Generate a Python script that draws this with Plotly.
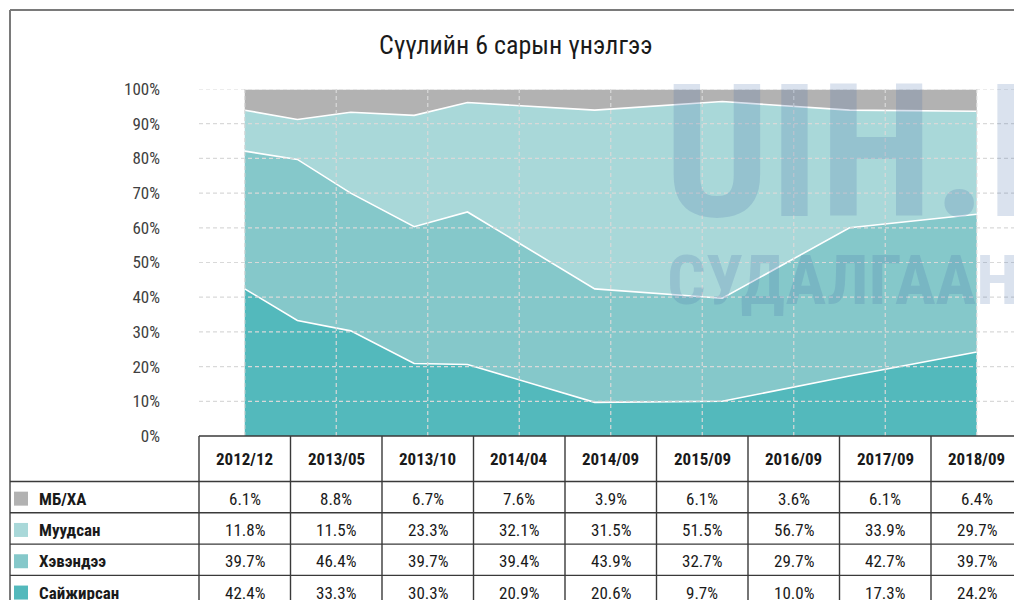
import plotly.graph_objects as go
import pandas as pd

# ---------------- data ----------------
categories = ["2012/12", "2013/05", "2013/10", "2014/04", "2014/09",
              "2015/09", "2016/09", "2017/09", "2018/09"]
series_names = ["МБ/ХА", "Муудсан", "Хэвэндээ", "Сайжирсан"]
mb_xa = [6.1, 8.8, 6.7, 7.6, 3.9, 6.1, 3.6, 6.1, 6.4]
muudsan = [11.8, 11.5, 23.3, 32.1, 31.5, 51.5, 56.7, 33.9, 29.7]
hevendee = [39.7, 46.4, 39.7, 39.4, 43.9, 32.7, 29.7, 42.7, 39.7]
saijirsan = [42.4, 33.3, 30.3, 20.9, 20.6, 9.7, 10.0, 17.3, 24.2]
y_tick_vals = [0, 10, 20, 30, 40, 50, 60, 70, 80, 90, 100]
y_tick_text = ["0%", "10%", "20%", "30%", "40%", "50%", "60%", "70%", "80%", "90%", "100%"]
title_text = "Сүүлийн 6 сарын үнэлгээ"
watermark_1 = "UIH.MN"
watermark_2 = "СУДАЛГААНЫ С"

series_values = [mb_xa, muudsan, hevendee, saijirsan]
colors = ["#b2b2b2", "#a9d8d9", "#85c8ca", "#53b9bc"]

FONT = "Liberation Sans Narrow, Roboto Condensed, DejaVu Sans Condensed, Arial Narrow, sans-serif"

# ---------------- layout geometry (pixels) ----------------
FIG_W, FIG_H = 1014, 600
L, T = 199, 89          # plot area left / top
W = FIG_W - L           # plot area width (to right edge)
H = 436 - T             # plot area height
COL_W = 91.5
HEADER_TOP = 436
HEADER_BOTTOM = 481.5
ROW_H = 31.3
TABLE_LEFT = 10


def xp(px):
    return (px - L) / W


def yp(py):
    return (T + H - py) / H


dates = pd.to_datetime(categories, format="%Y/%m")
first_c = L + COL_W / 2
last_c = L + (len(categories) - 0.5) * COL_W
span_days = (dates[-1] - dates[0]).days
px_per_day = (last_c - first_c) / span_days
r0 = dates[0] - pd.Timedelta(days=(first_c - L) / px_per_day)
r1 = dates[0] + pd.Timedelta(days=(L + W - first_c) / px_per_day)

fig = go.Figure()
# stack from bottom to top
for name, vals, col in reversed(list(zip(series_names, series_values, colors))):
    fig.add_trace(go.Scatter(
        x=dates, y=vals, name=name, mode="lines",
        stackgroup="one", groupnorm="percent",
        line=dict(color="white", width=1.6),
        fillcolor=col, showlegend=False,
        hovertemplate=name + ": %{text}<extra></extra>",
        text=[f"{v:.1f}%" for v in vals],
    ))

shapes = []
grid = dict(color="#d9d9d9", width=1.2, dash="4px,3px")
# horizontal gridlines (on top of areas)
for v in y_tick_vals[1:]:
    shapes.append(dict(type="line", xref="paper", yref="y", x0=0, x1=1, y0=v, y1=v,
                       line=grid, layer="above"))
# vertical gridlines at category centres
for i in range(len(categories)):
    cx = xp(L + (i + 0.5) * COL_W)
    shapes.append(dict(type="line", xref="paper", yref="y", x0=cx, x1=cx, y0=0, y1=100,
                       line=grid, layer="above"))

# outer border
border = dict(color="#7a7a7a", width=2)
shapes.append(dict(type="line", xref="paper", yref="paper", x0=xp(TABLE_LEFT), x1=xp(FIG_W + 5),
                   y0=yp(10), y1=yp(10), line=border))
shapes.append(dict(type="line", xref="paper", yref="paper", x0=xp(TABLE_LEFT), x1=xp(TABLE_LEFT),
                   y0=yp(10), y1=yp(FIG_H + 5), line=border))

# data table lines
tl = dict(color="#3a3a3a", width=1.4)
table_right = L + len(categories) * COL_W
shapes.append(dict(type="line", xref="paper", yref="paper", x0=0, x1=xp(table_right),
                   y0=yp(HEADER_TOP), y1=yp(HEADER_TOP), line=tl))
for r in range(len(series_names)):
    yy = HEADER_BOTTOM + r * ROW_H
    shapes.append(dict(type="line", xref="paper", yref="paper", x0=xp(TABLE_LEFT), x1=xp(table_right),
                       y0=yp(yy), y1=yp(yy), line=tl))
for i in range(len(categories) + 1):
    xx = L + i * COL_W
    shapes.append(dict(type="line", xref="paper", yref="paper", x0=xp(xx), x1=xp(xx),
                       y0=yp(HEADER_TOP), y1=yp(FIG_H + 5), line=tl))

annotations = []
# header
for i, c in enumerate(categories):
    annotations.append(dict(text=c, xref="paper", yref="paper",
                            x=xp(L + (i + 0.5) * COL_W), y=yp((HEADER_TOP + HEADER_BOTTOM) / 2),
                            xanchor="center", yanchor="middle", showarrow=False,
                            font=dict(family=FONT, size=17, color="#1a1a1a", weight="bold")))
# rows
for r, (name, vals, col) in enumerate(zip(series_names, series_values, colors)):
    cy = HEADER_BOTTOM + (r + 0.5) * ROW_H + 1.5
    shapes.append(dict(type="rect", xref="paper", yref="paper",
                       x0=xp(14), x1=xp(28), y0=yp(cy - 7), y1=yp(cy + 7),
                       fillcolor=col, line=dict(width=0)))
    annotations.append(dict(text=name, xref="paper", yref="paper", x=xp(37), y=yp(cy),
                            xanchor="left", yanchor="middle", showarrow=False,
                            font=dict(family=FONT, size=17, color="#1a1a1a", weight="bold")))
    for i, v in enumerate(vals):
        annotations.append(dict(text=f"{v:.1f}%", xref="paper", yref="paper",
                                x=xp(L + (i + 0.5) * COL_W), y=yp(cy),
                                xanchor="center", yanchor="middle", showarrow=False,
                                font=dict(family=FONT, size=17, color="#1a1a1a")))

# title
annotations.append(dict(text=title_text, xref="paper", yref="paper", x=xp(516), y=yp(45),
                        xanchor="center", yanchor="middle", showarrow=False,
                        font=dict(family=FONT, size=26, color="#1a1a1a")))

# watermark
annotations.append(dict(text=watermark_1, xref="paper", yref="paper", x=xp(662), y=yp(152),
                        xanchor="left", yanchor="middle", showarrow=False,
                        font=dict(family=FONT, size=185, color="rgba(70,110,170,0.2)", weight="bold")))
annotations.append(dict(text=watermark_2, xref="paper", yref="paper", x=xp(665), y=yp(281),
                        xanchor="left", yanchor="middle", showarrow=False,
                        font=dict(family=FONT, size=68, color="rgba(70,110,170,0.2)", weight="bold")))

fig.update_layout(
    width=FIG_W, height=FIG_H,
    margin=dict(l=L, r=0, t=T, b=FIG_H - T - H, pad=0),
    paper_bgcolor="white", plot_bgcolor="white",
    font=dict(family=FONT, color="#404040"),
    showlegend=False,
    shapes=shapes,
    annotations=annotations,
    xaxis=dict(type="date", range=[r0, r1], showgrid=False, zeroline=False,
               showline=False, showticklabels=False, ticks="", fixedrange=True),
    yaxis=dict(range=[0, 100], tickvals=y_tick_vals, ticktext=y_tick_text,
               showgrid=False, zeroline=False, showline=False, ticks="",
               ticklabelstandoff=38, tickfont=dict(family=FONT, size=17, color="#404040"),
               fixedrange=True),
)

fig.write_html("out.html", config={"displayModeBar": False},
               post_script="document.body.style.margin='0px';document.body.style.overflow='hidden';")
